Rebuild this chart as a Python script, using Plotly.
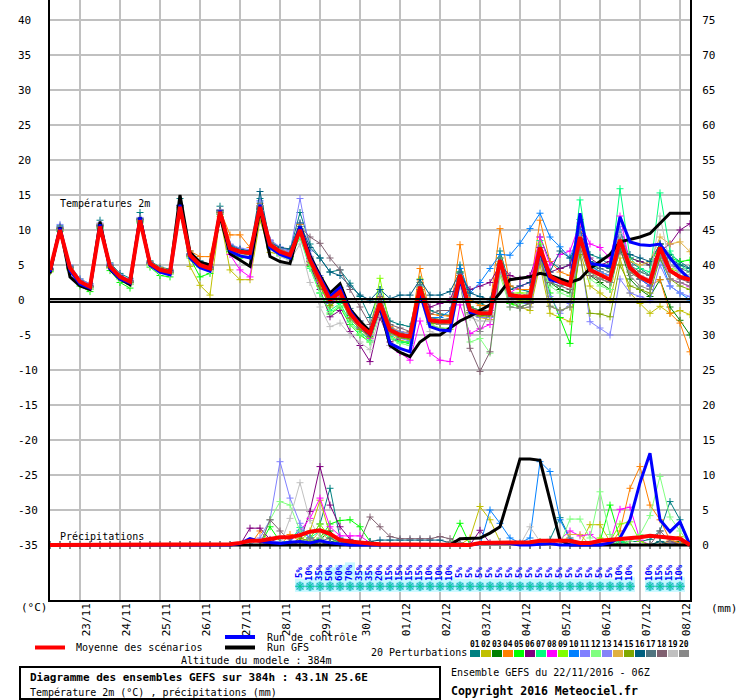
import plotly.graph_objects as go

MONO = "DejaVu Sans Mono"

# echeances toutes les 6h depuis le 22/11 06Z
hours = list(range(0, 385, 6))
day_hours = [18 + 24 * k for k in range(16)]
day_labels = ["23/11", "24/11", "25/11", "26/11", "27/11", "28/11", "29/11", "30/11",
              "01/12", "02/12", "03/12", "04/12", "05/12", "06/12", "07/12", "08/12"]

# temperatures 2m (degC)
t_mean = [4.3, 10.0, 4.6, 2.6, 1.9, 10.5, 4.8, 3.3, 2.6, 11.4,
          5.2, 4.3, 4.0, 13.3, 6.4, 5.0, 4.5, 12.6, 7.4, 6.9,
          6.7, 13.3, 7.9, 6.9, 6.4, 10.0, 5.7, 2.9, 0.0, 1.2,
          -1.9, -3.6, -4.8, -0.5, -4.3, -5.0, -5.2, 1.9, -2.9, -3.1,
          -3.1, 3.6, -1.4, -1.9, -1.9, 5.7, 0.7, 0.5, 0.5, 7.5,
          3.4, 2.6, 2.1, 9.0, 4.3, 3.6, 2.9, 8.6, 4.6, 3.3,
          2.6, 7.5, 4.2, 3.3, 2.9]
t_ctrl = [4.0, 10.3, 4.2, 2.3, 1.7, 10.8, 4.5, 3.0, 2.4, 11.8,
          5.0, 4.0, 3.6, 13.6, 6.0, 4.6, 4.1, 12.8, 7.0, 6.3,
          6.0, 13.6, 7.5, 6.5, 6.0, 10.5, 6.0, 3.2, 0.5, 1.8,
          -1.5, -3.5, -5.0, -0.8, -6.2, -6.9, -7.4, 1.0, -3.8, -4.3,
          -4.4, 3.0, -1.8, -1.9, -2.0, 5.5, 0.6, 0.5, 0.5, 7.0,
          2.9, 2.5, 2.1, 12.4, 5.2, 5.0, 4.8, 11.9, 8.3, 7.9,
          7.8, 8.0, 6.0, 4.3, 2.9]
t_gfs = [3.8, 10.4, 3.3, 2.0, 1.5, 11.2, 4.4, 3.0, 2.2, 11.8,
         5.0, 4.2, 3.8, 15.0, 6.8, 5.4, 5.0, 12.0, 6.6, 5.7,
         4.8, 13.0, 6.2, 5.5, 5.2, 10.5, 6.3, 3.5, 1.0, 2.3,
         -1.3, -3.0, -4.5, -1.0, -6.5, -7.5, -8.1, -6.0, -5.0, -5.0,
         -4.0, -3.0, -2.3, -1.5, -0.7, 1.0, 2.9, 3.1, 3.3, 3.8,
         3.5, 3.0, 2.5, 3.0, 4.5, 5.5, 6.5, 8.3, 8.6, 9.0,
         9.5, 11.0, 12.4, 12.4, 12.4]

t01 = [4.5, 10.6, 4.9, 3.0, 2.3, 11.4, 5.3, 3.8, 3.1, 12.5,
       5.6, 4.7, 4.4, 14.5, 7.0, 5.6, 5.1, 13.4, 7.9, 7.3,
       7.0, 14.5, 8.4, 7.5, 7.1, 12.5, 8.0, 6.0, 4.0, 4.3,
       2.4, 0.5, -2.5, 1.5, -3.0, -3.5, -3.8, 2.5, -1.5, -2.0,
       -2.2, 5.0, 0.0, -0.5, -1.0, 7.0, 2.0, 1.5, 1.2, 9.0,
       5.5, 4.5, 5.0, 11.5, 6.5, 6.0, 5.0, 10.0, 5.5, 4.5,
       3.5, 8.0, 6.5, 5.5, 4.5]
t02 = [4.0, 10.2, 4.4, 2.4, 1.6, 10.8, 4.6, 3.1, 2.3, 11.6,
       5.0, 4.1, 3.8, 13.0, 4.8, 2.1, 0.7, 11.9, 4.3, 2.9,
       2.9, 11.4, 6.8, 6.5, 6.0, 9.0, 5.0, 2.0, -1.0, 0.5,
       -2.5, -4.0, -5.5, -1.5, -5.0, -5.8, -6.0, 0.5, -3.5, -4.0,
       -4.2, 2.5, -2.0, -2.5, -2.8, 4.0, -0.5, -1.0, -1.5, 5.0,
       -1.9, -2.5, -3.1, 7.0, 2.0, 1.0, 0.0, 6.0, 1.0, -0.5,
       -1.9, -0.9, -1.9, -1.5, -2.1]
t03 = [4.2, 10.0, 4.5, 2.5, 1.8, 10.4, 4.7, 3.2, 2.5, 11.2,
       5.1, 4.2, 3.9, 13.1, 6.2, 4.8, 4.3, 12.3, 7.2, 6.6,
       6.4, 13.0, 7.6, 6.6, 6.2, 9.6, 5.5, 2.5, -0.5, 0.8,
       -2.2, -4.0, -5.2, -0.8, -4.6, -5.3, -5.5, 1.5, -3.2, -3.5,
       -3.5, 3.0, -1.8, -2.2, -2.3, 5.0, 0.3, 0.2, 0.0, 7.0,
       2.5, 1.5, 1.0, 8.5, 3.5, 2.5, 1.5, 7.5, 3.0, 1.5,
       0.5, 2.9, -1.0, -2.9, -5.0]
t04 = [4.4, 10.3, 4.8, 2.8, 2.0, 10.9, 5.0, 3.5, 2.8, 11.7,
       5.5, 4.6, 4.3, 13.5, 7.0, 6.2, 6.2, 12.9, 9.3, 9.3,
       7.5, 13.8, 8.5, 7.3, 6.8, 10.8, 6.2, 3.2, 0.3, 1.5,
       -1.7, -3.4, -4.5, 0.3, -3.8, -4.5, -4.7, 4.5, -2.0, -2.2,
       -2.3, 7.9, 0.0, -0.8, -0.8, 10.2, 2.0, 1.5, 1.5, 11.4,
       5.5, 4.0, 3.5, 10.5, 5.0, 4.0, 3.0, 9.0, 5.0, 3.0,
       2.0, 2.9, -1.9, -3.3, -7.4]
t05 = [4.1, 9.8, 4.3, 2.0, 1.2, 10.2, 4.2, 2.5, 1.7, 11.0,
       4.7, 3.5, 3.3, 13.0, 6.0, 3.3, 3.8, 12.2, 6.9, 6.0,
       6.2, 12.9, 7.5, 6.4, 6.0, 9.3, 4.8, 1.0, -2.0, -1.0,
       -3.5, -5.0, -6.0, -1.5, -5.5, -6.0, -6.2, 1.5, -3.0, -3.2,
       -3.0, 3.5, -1.0, -1.5, -1.5, 5.5, -0.5, -1.0, -0.5, 6.5,
       1.0, -2.5, -6.2, 9.0, 4.5, 5.0, 4.5, 9.5, 6.0, 5.5,
       5.0, 8.0, 6.0, 5.5, 5.7]
t06 = [4.3, 10.1, 4.6, 2.6, 1.9, 10.6, 4.8, 3.3, 2.5, 11.5,
       5.1, 4.3, 4.0, 13.2, 6.3, 4.9, 4.4, 12.5, 7.3, 6.8,
       6.6, 13.1, 7.7, 6.7, 6.2, 9.5, 5.0, 1.5, -2.4, -1.5,
       -4.5, -6.5, -8.8, -2.5, -6.0, -5.5, -5.0, 1.5, -1.0, -0.5,
       0.0, 3.5, 1.5, 2.0, 2.5, 5.0, 3.5, 3.0, 3.5, 7.5,
       4.0, 4.5, 5.0, 10.0, 6.0, 5.0, 5.5, 9.0, 6.0, 5.5,
       5.0, 7.0, 8.0, 10.0, 10.9]
t07 = [4.2, 9.9, 4.5, 2.4, 1.7, 10.3, 4.6, 3.0, 2.3, 11.1,
       5.0, 4.0, 3.7, 13.0, 6.2, 4.8, 4.2, 12.4, 7.1, 6.5,
       6.3, 12.9, 7.4, 6.3, 5.8, 9.0, 4.5, 1.0, -1.5, -0.5,
       -3.0, -4.5, -5.8, -1.0, -5.2, -6.0, -6.0, 1.8, -3.0, -3.3,
       -3.5, 4.0, -1.0, -1.5, -1.8, 6.5, 0.5, 0.5, 1.0, 8.5,
       2.5, 2.0, 2.5, 14.3, 5.0, 4.0, 3.5, 15.9, 6.0, 4.5,
       4.0, 15.3, 7.0, 5.0, 4.0]
t08 = [4.3, 10.0, 4.6, 2.7, 2.0, 10.6, 4.9, 3.4, 2.7, 11.4,
       5.3, 4.4, 4.1, 13.3, 6.4, 5.0, 4.5, 12.4, 6.5, 4.3,
       3.3, 13.5, 8.0, 7.0, 6.5, 10.0, 5.5, 2.5, -0.5, 0.5,
       -2.5, -4.0, -5.5, -1.5, -6.5, -7.5, -8.6, -3.0, -7.6, -8.6,
       -8.8, -0.7, -4.8, -4.1, -3.5, 4.0, 1.0, 2.0, 2.5, 9.0,
       5.0, 6.5, 7.0, 11.0, 8.0, 7.5, 6.0, 12.0, 5.0, 3.0,
       2.0, 7.0, 3.0, 2.5, 1.9]
t09 = [4.4, 10.2, 4.7, 2.5, 1.5, 10.7, 4.6, 3.0, 2.2, 11.5,
       5.0, 4.0, 3.8, 13.4, 6.5, 5.2, 4.6, 12.8, 7.5, 7.0,
       6.8, 13.4, 8.0, 7.0, 6.5, 10.2, 6.0, 3.0, 0.0, 1.2,
       -1.8, -3.5, -4.5, 3.1, -4.0, -4.8, -5.0, 3.0, -2.5, -2.8,
       -2.8, 4.0, -1.0, -1.5, -1.5, 6.0, 1.0, 1.0, 1.0, 8.0,
       3.5, 3.0, 2.5, 9.0, 4.0, 3.0, 2.5, 8.0, 4.0, 3.0,
       2.5, 7.0, 4.5, 4.0, 3.5]
t10 = [4.3, 10.1, 4.6, 2.6, 1.9, 10.5, 4.8, 3.3, 2.6, 11.4,
       5.2, 4.3, 4.0, 13.2, 6.4, 5.0, 4.5, 12.6, 7.4, 6.9,
       6.7, 13.2, 7.8, 6.8, 6.3, 9.8, 5.6, 2.8, -0.2, 1.0,
       -2.0, -3.8, -5.0, -0.3, -4.5, -5.0, -5.0, 2.0, -2.5, -2.5,
       -1.5, 4.5, 1.0, 2.5, 4.5, 6.5, 6.4, 8.1, 10.2, 12.4,
       9.0, 7.6, 6.0, 10.0, 5.0, 4.0, 3.5, 9.0, 4.5, 3.0,
       2.0, 6.0, 2.0, 1.0, 0.0]
t11 = [4.6, 10.8, 5.0, 3.0, 2.3, 11.0, 5.2, 3.6, 2.9, 11.8,
       5.4, 4.5, 4.2, 13.6, 6.6, 5.3, 4.8, 12.9, 8.0, 7.4,
       7.2, 14.0, 8.5, 7.4, 6.9, 14.5, 7.0, 3.5, -0.5, 1.0,
       -2.0, -3.8, -5.0, -0.5, -4.8, -5.5, -5.8, 1.5, -3.0, -3.5,
       -3.5, 3.0, -2.0, -2.5, -2.5, 5.0, 0.0, -0.5, -0.5, 6.0,
       0.5, -1.9, -0.5, 7.0, -3.1, -4.0, -5.0, 3.0, 1.0, 0.5,
       0.0, 5.0, 2.0, 1.0, 0.5]
t12 = [4.2, 10.0, 4.4, 2.2, 1.5, 10.4, 4.5, 3.0, 2.2, 11.2,
       4.9, 3.9, 3.7, 13.0, 6.1, 4.7, 4.2, 12.3, 7.1, 6.5,
       6.3, 12.8, 7.4, 6.3, 5.8, 9.2, 4.6, 1.0, -1.8, -0.8,
       -3.2, -4.8, -6.0, -1.2, -5.5, -6.2, -6.5, 1.0, -3.5, -4.0,
       -4.0, 2.5, -6.0, -5.5, -7.6, 3.5, -1.0, -0.5, 0.0, 6.0,
       2.0, 1.0, 0.5, 8.0, 3.0, 2.0, 1.5, 8.0, 5.0, 4.0,
       3.5, 7.5, 4.0, 3.5, 3.3]
t13 = [4.5, 10.5, 4.8, 2.8, 2.1, 10.8, 5.0, 3.5, 2.8, 11.6,
       5.3, 4.4, 4.1, 13.5, 6.5, 5.2, 4.6, 12.8, 7.6, 7.1,
       6.9, 14.2, 8.6, 7.6, 7.0, 11.0, 6.2, 3.0, 0.5, 1.5,
       -1.5, -3.0, -4.2, 0.0, -4.0, -4.5, -4.8, 2.2, -2.7, -3.0,
       -3.0, 3.8, -1.5, -2.0, -2.0, 5.5, 1.0, 0.5, 0.5, 7.0,
       3.0, 2.5, 2.0, 9.5, 4.5, 4.0, 3.5, 10.5, 5.0, 3.5,
       3.0, 8.0, 5.0, 4.0, 3.5]
t14 = [4.3, 10.1, 4.5, 2.5, 1.8, 10.5, 4.7, 3.2, 2.5, 11.3,
       5.1, 4.2, 3.9, 13.2, 6.3, 4.9, 4.4, 12.5, 7.3, 6.8,
       6.6, 13.2, 7.8, 6.8, 6.3, 9.9, 5.6, 2.7, -0.2, 1.0,
       -2.0, -3.7, -4.9, -0.6, -4.4, -5.1, -5.3, 1.8, -3.0, -3.2,
       -3.2, 3.5, -1.5, -2.0, -2.0, 5.5, 0.5, 0.3, 0.3, 7.0,
       3.0, 2.5, 2.0, 9.0, 4.0, 3.5, 3.0, 8.5, 5.5, 5.0,
       5.5, 9.0, 8.0, 8.3, 6.9]
t15 = [4.2, 10.0, 4.5, 2.6, 1.9, 10.4, 4.7, 3.2, 2.5, 11.3,
       5.1, 4.2, 3.9, 13.2, 6.3, 4.9, 4.4, 12.5, 7.3, 6.8,
       6.6, 13.1, 7.7, 6.7, 6.2, 9.6, 5.3, 2.0, -0.8, 0.3,
       -2.6, -4.2, -5.3, -0.9, -4.7, -5.4, -5.6, 1.5, -3.3, -3.5,
       -3.5, 3.2, -1.8, -2.3, -2.3, 5.2, 0.2, 0.0, 0.0, 7.0,
       -0.9, -1.5, -1.0, 6.5, -1.9, -2.0, -2.4, 5.0, 2.0, 1.5,
       1.0, 6.0, 3.0, 2.0, 1.5]
t16 = [4.4, 10.4, 4.7, 2.7, 2.0, 10.7, 5.0, 3.5, 2.7, 11.6,
       5.4, 4.5, 4.2, 13.5, 6.6, 5.2, 4.7, 12.8, 7.7, 7.2,
       7.0, 15.5, 8.2, 7.5, 7.3, 11.0, 7.5, 6.0, 4.0, 3.5,
       2.0, 0.7, 0.0, 1.5, 0.2, 0.7, 0.7, 2.9, 0.7, 0.7,
       1.2, 4.0, 1.0, 0.5, 0.0, 5.0, 1.5, 2.0, 2.5, 6.0,
       4.0, 7.0, 6.0, 8.0, 5.5, 5.0, 4.5, 7.0, 6.5, 6.0,
       5.5, 8.0, 6.0, 5.0, 4.5]
t17 = [4.3, 10.2, 4.6, 2.6, 1.9, 10.6, 4.9, 3.4, 2.6, 11.5,
       5.2, 4.3, 4.0, 13.3, 6.4, 5.0, 4.5, 12.6, 7.4, 6.9,
       6.7, 13.3, 7.9, 6.9, 6.4, 10.2, 5.9, 3.2, 0.5, 1.8,
       -1.2, -3.0, -4.3, -0.3, -4.0, -4.7, -5.0, 2.2, -2.5, -2.8,
       -2.7, 3.8, -1.0, -1.5, -1.5, 6.0, 1.0, 0.5, 1.0, 7.5,
       3.5, 3.0, 2.5, 9.5, 5.0, 4.5, 4.0, 9.0, 5.0, 4.0,
       3.5, 8.0, 5.0, 4.5, 4.0]
t18 = [4.4, 10.3, 4.7, 2.7, 2.0, 10.6, 4.9, 3.4, 2.7, 11.5,
       5.3, 4.4, 4.1, 13.4, 6.5, 5.1, 4.6, 12.7, 7.5, 7.0,
       6.8, 13.4, 8.0, 7.0, 6.6, 10.5, 9.0, 8.1, 6.0, 4.3,
       1.5, -1.0, -3.5, 0.5, -3.5, -4.0, -4.5, 1.0, -2.0, -1.5,
       -1.5, 3.0, -6.9, -10.2, -7.4, 4.5, 0.0, -1.0, -0.5, 5.5,
       2.5, 2.0, 1.5, 7.5, 3.5, 3.0, 2.5, 7.0, 4.0, 3.0,
       2.5, 6.5, 4.0, 3.0, 2.5]
t19 = [4.2, 9.9, 4.4, 2.3, 1.6, 10.3, 4.5, 3.0, 2.3, 11.1,
       5.0, 4.0, 3.7, 13.0, 6.1, 4.7, 4.2, 12.3, 7.1, 6.5,
       6.3, 12.8, 7.3, 6.2, 5.6, 8.0, 2.5, -1.0, -3.8, -3.3,
       -5.0, -6.0, -7.1, -2.0, -6.5, -7.0, -7.1, 0.5, -4.5, -5.0,
       -5.0, 2.0, -2.5, -3.0, -3.0, 4.5, 0.0, 0.5, 1.0, 7.0,
       3.0, 2.5, 2.0, 9.0, 4.0, 3.5, 3.0, 9.5, 4.5, 3.5,
       3.0, 12.0, 5.0, 4.0, 3.5]
t20 = [4.3, 10.0, 4.6, 2.6, 1.9, 10.5, 4.8, 3.3, 2.6, 11.4,
       5.2, 4.3, 4.0, 13.3, 6.4, 5.0, 4.5, 12.6, 7.4, 6.9,
       6.7, 13.5, 8.2, 7.2, 6.7, 10.5, 6.0, 3.0, 0.0, 1.2,
       -1.8, -3.5, -4.7, -0.5, -4.3, -5.0, -5.0, 1.5, -3.0, -3.5,
       -3.5, 3.0, -1.5, -4.5, -1.5, 5.0, -1.0, -1.2, -1.0, 6.0,
       -0.9, -1.5, -1.0, 8.5, 4.0, 3.0, 2.5, 8.0, 3.5, 2.0,
       1.5, 6.5, 3.0, 2.5, 2.0]

# precipitations (mm / 6h)
p_mean = [0, 0, 0, 0, 0, 0, 0, 0, 0, 0,
          0, 0, 0, 0, 0, 0, 0, 0, 0.1, 0.3,
          0.6, 0.6, 0.8, 1.1, 1.1, 1.4, 1.9, 2.1, 1.6, 0.7,
          0.5, 0.3, 0.2, 0.1, 0.1, 0.1, 0.1, 0.1, 0.1, 0.1,
          0, 0, 0, 0.3, 0.3, 0.3, 0.3, 0.3, 0.4, 0.6,
          0.6, 0.6, 0.6, 0.3, 0.3, 0.6, 0.7, 0.8, 1.0, 1.1,
          1.3, 1.2, 1.0, 0.9, 0]
p_ctrl = [0, 0, 0, 0, 0, 0, 0, 0, 0, 0,
          0, 0, 0, 0, 0, 0, 0, 0, 0, 0.2,
          0.9, 0.5, 0.3, 0.2, 0.4, 0.5, 0.3, 0.6, 0.3, 0.1,
          0, 0, 0, 0, 0, 0, 0, 0, 0, 0,
          0, 0, 0, 0.2, 0.3, 0.3, 0.2, 0, 0, 0.1,
          0.2, 0, 0, 0, 0, 0, 0.3, 1.0, 3.6, 8.9,
          13.1, 3.6, 1.9, 3.3, 0]
p_gfs = [0, 0, 0, 0, 0, 0, 0, 0, 0, 0,
         0, 0, 0, 0, 0, 0, 0, 0, 0, 0,
         0, 0, 0, 0, 0, 0, 0, 0, 0, 0,
         0, 0, 0, 0, 0, 0, 0, 0, 0, 0,
         0, 0.9, 1.0, 1.0, 1.7, 2.6, 7.4, 12.3, 12.3, 12.1,
         6.4, 0.7, 0, 0, 0, 0, 0, 0, 0, 0,
         0, 0, 0, 0, 0]

p01 = [0, 0, 0, 0, 0, 0, 0, 0, 0, 0,
       0, 0, 0, 0, 0, 0, 0, 0, 0, 0,
       0, 0, 0, 0, 0.3, 0.5, 1.0, 3.0, 8.1, 1.0,
       0.5, 0.2, 0, 0, 0, 0, 0, 0, 0, 0,
       0, 0, 0, 0, 0, 0, 0, 0, 0, 0.3,
       0.8, 3.9, 1.0, 0, 0, 0, 0, 0.3, 0.5, 0.5,
       0.8, 2.0, 6.2, 3.6, 0]
p02 = [0, 0, 0, 0, 0, 0, 0, 0, 0, 0,
       0, 0, 0, 0, 0, 0, 0, 0, 0, 0,
       0, 0, 0, 0, 0, 0.5, 2.0, 6.4, 1.5, 0.3,
       0, 0, 0, 0, 0, 0, 0, 0, 0, 0,
       0, 0, 1.0, 5.5, 3.6, 0.5, 0, 0, 0, 0,
       0, 0, 0, 0, 2.9, 2.9, 0.5, 0, 0, 0,
       0, 0, 0.5, 1.2, 0]
p03 = [0, 0, 0, 0, 0, 0, 0, 0, 0, 0,
       0, 0, 0, 0, 0, 0, 0, 0, 0, 0,
       0, 0, 0.3, 0, 0, 0, 0.5, 0.8, 2.0, 0.5,
       0.3, 0, 0, 0, 0, 0, 0, 0, 0, 0,
       0, 0, 0, 0, 0, 0, 0, 0, 0, 0,
       0, 0, 0, 0, 0, 0, 0, 0, 0, 0,
       0, 0.5, 0.3, 0.5, 0]
p04 = [0, 0, 0, 0, 0, 0, 0, 0, 0, 0,
       0, 0, 0, 0, 0, 0, 0, 0, 0, 0,
       0, 2.0, 0.5, 0, 1.5, 0.5, 0, 0.5, 0.3, 0,
       0, 0, 0, 0, 0, 0, 0, 0, 0, 0,
       0, 0, 0, 0, 0, 0, 0, 0, 0, 0,
       0, 0, 0, 0, 0, 0, 0, 2.0, 8.1, 11.2,
       5.7, 3.6, 0.7, 0.3, 0]
p05 = [0, 0, 0, 0, 0, 0, 0, 0, 0, 0,
       0, 0, 0, 0, 0, 0, 0, 0, 0, 0,
       0, 0, 2.6, 0.5, 0, 0, 0.5, 1.0, 3.0, 3.5,
       3.6, 2.6, 0.5, 0, 0, 0, 0, 0, 0, 0,
       0, 3.1, 0, 0, 0, 0, 0, 0, 0, 0.5,
       0, 0, 0, 0, 0, 0.5, 5.7, 0.8, 0, 0,
       0, 0, 0, 0, 0]
p06 = [0, 0, 0, 0, 0, 0, 0, 0, 0, 0,
       0, 0, 0, 0, 0, 0, 0, 0, 0, 0,
       2.4, 2.4, 0.8, 0.3, 0, 0.5, 4.8, 11.2, 5.7, 2.6,
       0.8, 0, 0, 0, 0, 0, 0, 0, 0, 0,
       0, 0, 0, 2.1, 0.3, 0, 0, 0, 0, 0,
       0, 0, 0, 0, 0, 0, 0, 0, 0, 0,
       0, 0, 0.5, 0, 0]
p07 = [0, 0, 0, 0, 0, 0, 0, 0, 0, 0,
       0, 0, 0, 0, 0, 0, 0, 0, 0, 0,
       0, 0, 0, 0.5, 0.5, 2.5, 1.0, 2.0, 1.0, 0.3,
       0, 0, 0, 0, 0, 0, 0, 0, 0, 0,
       0, 0, 0, 0, 0, 0, 0, 0, 0, 0,
       0, 0, 0, 0, 0, 0, 0, 0.5, 0, 0,
       0, 0, 0, 0, 0]
p08 = [0, 0, 0, 0, 0, 0, 0, 0, 0, 0,
       0, 0, 0, 0, 0, 0, 0, 0, 0, 0,
       0, 0, 0, 0, 0.5, 2.0, 3.8, 6.7, 2.6, 1.3,
       1.3, 1.3, 0.3, 0, 0, 0, 0, 0, 0, 0,
       0, 0, 0, 0, 0, 0, 0, 0, 0, 0,
       0, 0.8, 2.0, 1.3, 1.5, 0.5, 0.3, 5.1, 5.4, 0.7,
       0, 0, 0, 0, 0]
p09 = [0, 0, 0, 0, 0, 0, 0, 0, 0, 0,
       0, 0, 0, 0, 0, 0, 0, 0, 0, 0,
       0, 0, 0, 0, 0, 0.5, 1.0, 3.0, 1.0, 0,
       0, 0, 0, 0, 0, 0, 0, 0, 0, 0,
       0, 0, 0, 0, 0, 0, 0, 0, 0, 0,
       0, 0, 0, 0, 0, 1.0, 0.5, 3.0, 3.3, 0.5,
       0, 0, 0, 0, 0]
p10 = [0, 0, 0, 0, 0, 0, 0, 0, 0, 0,
       0, 0, 0, 0, 0, 0, 0, 0, 0, 0,
       0, 0, 0, 0, 0.5, 2.1, 1.0, 0.5, 0.3, 0,
       0, 0, 0, 0, 0, 0, 0, 0, 0, 0,
       0, 0, 0, 0, 5.0, 3.1, 1.0, 0.3, 1.0, 11.9,
       10.5, 3.6, 0.8, 0, 0, 0, 0, 0, 0, 0,
       0, 0, 0, 0, 0]
p11 = [0, 0, 0, 0, 0, 0, 0, 0, 0, 0,
       0, 0, 0, 0, 0, 0, 0, 0, 0, 0,
       0, 1.0, 3.6, 11.9, 6.7, 3.1, 0.8, 0, 0, 0,
       0, 0, 0, 0, 0, 0, 0, 0, 0, 0,
       0, 0, 0, 0, 0, 0.5, 0, 0, 0, 0,
       0, 0, 0, 0, 0, 0, 0, 0, 0, 0,
       0, 0, 0.5, 0, 0]
p12 = [0, 0, 0, 0, 0, 0, 0, 0, 0, 0,
       0, 0, 0, 0, 0, 0, 0, 0, 0, 0,
       0, 0, 3.6, 6.2, 5.7, 2.0, 0.5, 0.5, 0, 0,
       0, 0, 0, 0, 0, 0, 0, 0, 0, 0,
       0, 0, 0, 0, 0, 0, 0, 0, 0, 0,
       0, 0, 3.7, 3.7, 1.0, 7.6, 1.5, 0, 0.5, 1.5,
       4.2, 9.8, 4.0, 2.0, 0]
p13 = [0, 0, 0, 0, 0, 0, 0, 0, 0, 0,
       0, 0, 0, 0, 0, 0, 0, 0, 0, 0,
       0, 0, 0.5, 0.5, 0, 0, 0.3, 0.5, 0, 0,
       0, 0, 0, 0, 0, 0, 0, 0, 0, 0,
       0, 0, 0, 0, 0, 0, 0, 0, 0, 0,
       0, 0, 0, 0, 0, 0, 0, 0, 0, 0,
       0, 0, 0.3, 0, 0]
p14 = [0, 0, 0, 0, 0, 0, 0, 0, 0, 0,
       0, 0, 0, 0, 0, 0, 0, 0, 0, 0,
       0, 0, 0, 0, 0, 0, 0.3, 2.0, 0.5, 0,
       0, 0, 0, 0, 0, 0, 0, 0, 0, 0,
       0, 0, 0, 0, 0, 0, 0, 0, 0, 0,
       0, 0, 1.5, 1.5, 0, 0, 0, 0, 0, 0,
       0, 0, 0.5, 1.0, 0]
p15 = [0, 0, 0, 0, 0, 0, 0, 0, 0, 0,
       0, 0, 0, 0, 0, 0, 0, 0, 0, 0,
       0, 0, 0, 0, 0, 1.0, 0.5, 0, 0, 0,
       0, 0, 0, 0, 0, 0, 0, 0, 0, 0,
       0, 0, 0, 0, 0, 0, 0, 0, 0, 0,
       0, 0, 0, 0, 0, 0, 0, 0, 0, 0,
       0, 0, 0, 0, 0]
p16 = [0, 0, 0, 0, 0, 0, 0, 0, 0, 0,
       0, 0, 0, 0, 0, 0, 0, 0, 0, 0,
       0, 0, 0, 0, 0, 0, 0, 0, 0.5, 0.3,
       0.3, 0.3, 0.5, 0.7, 0.7, 0.7, 0.7, 0.7, 0.7, 0.7,
       0.3, 0, 0, 0, 0, 0, 0, 0, 0, 0,
       0, 0, 0, 0, 0, 0, 0, 0, 0, 0,
       0, 0.5, 0, 0, 0]
p17 = [0, 0, 0, 0, 0, 0, 0, 0, 0, 0,
       0, 0, 0, 0, 0, 0, 0, 0, 0, 0,
       0, 0, 0, 0, 0, 0, 0, 0.5, 1.0, 0.3,
       0, 0, 0, 0, 0, 0, 0, 0, 0, 0,
       0, 0, 0, 0, 0, 0, 0, 0, 0, 0,
       0, 0, 0, 0, 0, 0, 0, 0, 0, 0,
       0, 0, 0, 0, 0]
p18 = [0, 0, 0, 0, 0, 0, 0, 0, 0, 0,
       0, 0, 0, 0, 0, 0, 0, 0, 0, 0,
       0, 0, 3.6, 2.0, 0.5, 0, 0, 0, 0, 0,
       0, 0.5, 4.0, 2.6, 1.2, 0.9, 0.9, 0.9, 0.9, 1.2,
       0.9, 0.3, 0, 0, 0, 0, 0, 0, 0, 0,
       0, 0, 0, 0, 0, 0, 0, 0, 0, 0,
       0, 2.0, 0.5, 0, 0]
p19 = [0, 0, 0, 0, 0, 0, 0, 0, 0, 0,
       0, 0, 0, 0, 0, 0, 0, 0, 0, 0,
       0, 0, 0, 0, 3.8, 8.9, 3.5, 1.0, 0, 0,
       0, 0, 0, 0, 0, 0, 0, 0, 0, 0,
       0, 0, 0, 0, 0, 0, 0, 0, 2.6, 0.5,
       0, 0, 0, 0, 0, 0, 0, 0, 0, 0,
       0, 0, 0, 0, 0]
p20 = [0, 0, 0, 0, 0, 0, 0, 0, 0, 0,
       0, 0, 0, 0, 0, 0, 0, 0, 0, 0,
       0, 0, 0, 0, 0, 0, 1.0, 0.5, 0, 0,
       0, 0, 0, 0, 0, 0, 0, 0, 0, 0,
       0.5, 0, 0, 0, 0, 0, 0, 0, 0, 0,
       0, 0, 0, 0, 0, 0, 0, 0, 0, 0,
       0, 0, 0, 0, 0]

member_colors = ["#008080", "#c0c000", "#008000", "#ff8000", "#00ff00",
                 "#800080", "#00ff80", "#ff00ff", "#80ff00", "#0080ff",
                 "#8080ff", "#80ff80", "#8484f8", "#e0b040", "#80a800",
                 "#006080", "#507480", "#806070", "#c0c0c0", "#888888"]
member_labels = ["%02d" % k for k in range(1, 21)]

# probabilite de neige (%)
snow_hours = list(range(150, 349, 6)) + [360, 366, 372, 378]
snow_prob = [5, 10, 35, 50, 60, 70, 35, 35, 20, 15, 15, 15, 15, 10, 10, 10,
             5, 5, 5, 5, 5, 5, 5, 5, 5, 5, 5, 5, 5, 5, 5, 5,
             10, 10, 10, 15, 15, 10]

temp_members = [t01, t02, t03, t04, t05, t06, t07, t08, t09, t10,
                t11, t12, t13, t14, t15, t16, t17, t18, t19, t20]
prec_members = [p01, p02, p03, p04, p05, p06, p07, p08, p09, p10,
                p11, p12, p13, p14, p15, p16, p17, p18, p19, p20]
for s in temp_members + prec_members + [t_mean, t_ctrl, t_gfs, p_mean, p_ctrl, p_gfs]:
    assert len(s) == len(hours), len(s)
assert len(snow_hours) == len(snow_prob)


def px(x):
    return (x - 50) / 640


def py(y):
    return (600 - y) / 600


fig = go.Figure()

# bande probabilite de neige
fig.add_trace(go.Bar(
    x=snow_hours, y=[1.7 + p * 0.036 for p in snow_prob], base=-41.7, width=6,
    marker=dict(color="#c8f8ff", line=dict(width=0)), hoverinfo="skip", showlegend=False))
fig.add_trace(go.Scatter(
    x=snow_hours, y=[-40.9] * len(snow_hours), mode="markers",
    marker=dict(symbol="circle", size=9, color="#70ccf2", line=dict(width=0)),
    hoverinfo="skip", showlegend=False))
fig.add_trace(go.Scatter(
    x=snow_hours, y=[-40.9] * len(snow_hours), mode="markers",
    marker=dict(symbol="asterisk-open", size=8, line=dict(color="#c4f0ff", width=1)),
    hoverinfo="skip", showlegend=False))

# temperatures
for vals, col in zip(temp_members, member_colors):
    fig.add_trace(go.Scatter(
        x=hours, y=vals, mode="lines+markers", line=dict(color=col, width=1),
        marker=dict(symbol="cross-thin", size=5, line=dict(color=col, width=1)),
        hoverinfo="skip", showlegend=False))
fig.add_trace(go.Scatter(x=hours, y=t_gfs, mode="lines", line=dict(color="black", width=3),
                         hoverinfo="skip", showlegend=False))
fig.add_trace(go.Scatter(x=hours, y=t_ctrl, mode="lines", line=dict(color="#0000ff", width=3),
                         hoverinfo="skip", showlegend=False))
fig.add_trace(go.Scatter(x=hours, y=t_mean, mode="lines", line=dict(color="#ff0000", width=4),
                         hoverinfo="skip", showlegend=False))

# precipitations
for vals, col in zip(prec_members, member_colors):
    fig.add_trace(go.Scatter(
        x=hours, y=vals, xaxis="x2", yaxis="y2", mode="lines+markers",
        line=dict(color=col, width=1),
        marker=dict(symbol="cross-thin", size=5, line=dict(color=col, width=1)),
        hoverinfo="skip", showlegend=False))
fig.add_trace(go.Scatter(x=hours, y=p_gfs, xaxis="x2", yaxis="y2", mode="lines",
                         line=dict(color="black", width=3), hoverinfo="skip", showlegend=False))
fig.add_trace(go.Scatter(x=hours, y=p_ctrl, xaxis="x2", yaxis="y2", mode="lines",
                         line=dict(color="#0000ff", width=3), hoverinfo="skip", showlegend=False))
fig.add_trace(go.Scatter(x=hours, y=p_mean, xaxis="x2", yaxis="y2", mode="lines",
                         line=dict(color="#ff0000", width=4), hoverinfo="skip", showlegend=False))

ann = []
for h, p in zip(snow_hours, snow_prob):
    ann.append(dict(x=h - 0.6, y=-39.0, xref="x", yref="y", text="%d%%" % p, textangle=-90,
                    showarrow=False, font=dict(family=MONO, size=9, color="#0000ff", weight="bold")))


def note(x, y, text, size=10, bold=False):
    ann.append(dict(x=px(x), y=py(y), xref="paper", yref="paper", text=text, showarrow=False,
                    xanchor="left", yanchor="middle",
                    font=dict(family=MONO, size=size, color="black",
                              weight="bold" if bold else "normal")))


note(58, 203, "Températures 2m")
note(58, 536, "Précipitations")
note(19, 607, "(°C)", 11)
note(709, 608, "(mm)", 11)
note(74, 647, "Moyenne des scénarios")
note(265, 637, "Run de contrôle")
note(265, 647, "Run GFS")
note(179, 660, "Altitude du modele : 384m")
note(369, 652, "20 Perturbations")
note(28, 677, "Diagramme des ensembles GEFS sur 384h : 43.1N 25.6E", 11, True)
note(28, 692, "Température 2m (°C) , précipitations (mm)")
note(449, 672, "Ensemble GEFS du 22/11/2016 - 06Z")
note(449, 691, "Copyright 2016 Meteociel.fr", 11.5, True)

shapes = [
    dict(type="line", xref="paper", yref="y", x0=0, x1=1, y0=0.15, y1=0.15,
         line=dict(color="black", width=2)),
    dict(type="line", xref="paper", yref="y", x0=0, x1=1, y0=-0.3, y1=-0.3,
         line=dict(color="black", width=2)),
    dict(type="line", xref="paper", yref="paper", x0=px(35), x1=px(65), y0=py(647.5), y1=py(647.5),
         line=dict(color="#ff0000", width=4)),
    dict(type="line", xref="paper", yref="paper", x0=px(225), x1=px(255), y0=py(637), y1=py(637),
         line=dict(color="#0000ff", width=4)),
    dict(type="line", xref="paper", yref="paper", x0=px(225), x1=px(255), y0=py(647.5), y1=py(647.5),
         line=dict(color="black", width=4)),
    dict(type="rect", xref="paper", yref="paper", x0=px(20), x1=px(440), y0=py(667), y1=py(699),
         line=dict(color="black", width=2)),
]
for k, (lab, col) in enumerate(zip(member_labels, member_colors)):
    x0 = 470 + 11 * k
    shapes.append(dict(type="rect", xref="paper", yref="paper", x0=px(x0), x1=px(x0 + 10),
                       y0=py(657), y1=py(650), fillcolor=col, line=dict(width=0)))
    ann.append(dict(x=px(x0 + 5), y=py(644.5), xref="paper", yref="paper", text=lab,
                    showarrow=False, xanchor="center", yanchor="middle",
                    font=dict(family=MONO, size=8, color="black", weight="bold")))

left_ticks = list(range(-35, 41, 5))
left_text = [(str(v) + "\u00a0" * 3)[:3] for v in left_ticks]
right_ticks = list(range(0, 76, 5))

fig.update_layout(
    width=740, height=700, autosize=False,
    margin=dict(l=50, r=50, t=0, b=100, pad=0),
    paper_bgcolor="white", plot_bgcolor="white",
    font=dict(family=MONO, color="black"),
    showlegend=False, barmode="overlay",
    xaxis=dict(range=[0, 384], tickvals=day_hours, showticklabels=False, ticks="",
               showgrid=True, gridcolor="#c0c0c0", gridwidth=2, zeroline=False,
               showline=True, linecolor="black", linewidth=2, mirror=False),
    xaxis2=dict(range=[0, 384], overlaying="x", anchor="y", side="bottom",
                tickvals=[h + 3.6 for h in day_hours], ticktext=day_labels, tickangle=-90,
                tickfont=dict(family=MONO, size=11, color="black"), ticks="",
                showgrid=False, zeroline=False, showline=False),
    yaxis=dict(range=[-42.86, 42.86], tickvals=left_ticks, ticktext=left_text,
               tickfont=dict(family=MONO, size=11, color="black"),
               ticks="outside", ticklen=8, tickcolor="rgba(0,0,0,0)",
               showgrid=True, gridcolor="#c0c0c0", gridwidth=2, zeroline=False,
               showline=True, linecolor="black", linewidth=2),
    yaxis2=dict(range=[-7.86, 77.86], overlaying="y", side="right", anchor="x",
                tickvals=right_ticks, tickfont=dict(family=MONO, size=11, color="black"),
                ticks="outside", ticklen=8, tickcolor="rgba(0,0,0,0)",
                showgrid=False, zeroline=False, showline=True, linecolor="black", linewidth=2),
    annotations=ann, shapes=shapes,
)

# la page html a une marge par defaut de 8px : on la retire
fig.write_html("out.html", config={"displayModeBar": False},
               post_script="document.body.style.margin='0';")
